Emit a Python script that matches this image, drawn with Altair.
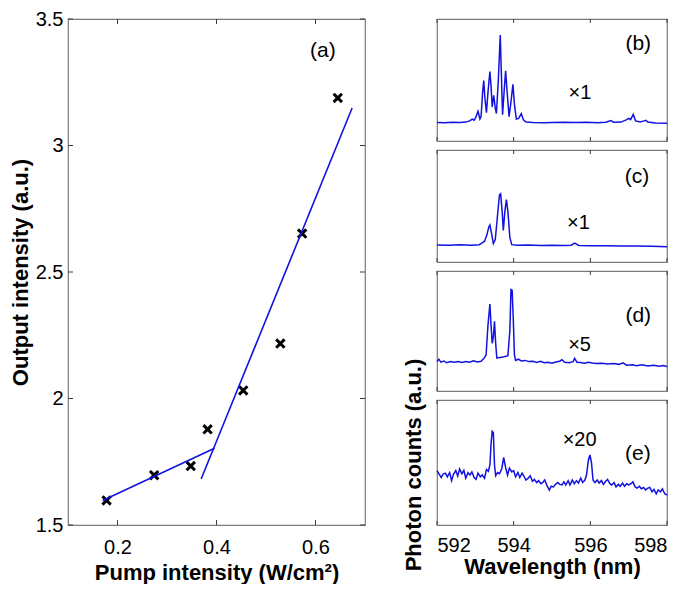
import altair as alt
import pandas as pd

FONT = "Liberation Sans"
BLUE = "#1212e0"
FRAME = "#7a7a7a"
TICKC = "#3a3a3a"

# ---------------- panel (a) ----------------
pump = [0.178, 0.274, 0.348, 0.382, 0.454, 0.529, 0.573, 0.645]
outp = [1.597, 1.697, 1.733, 1.878, 2.032, 2.217, 2.652, 3.188]
fit_x = [0.170, 0.396, 0.369, 0.674]
fit_y = [1.597, 1.803, 1.682, 3.148]
fit_seg = ["below", "below", "above", "above"]
a_xticks = [0.2, 0.4, 0.6]
a_yticks = [1.5, 2.0, 2.5, 3.0, 3.5]

# ---------------- spectra (b)-(e), counts in % of panel height ----------------
wl_b = [592.0, 592.2, 592.4, 592.6, 592.75, 592.85, 592.92, 592.97, 593.02, 593.07,
        593.12, 593.15, 593.19, 593.22, 593.25, 593.29, 593.33, 593.38, 593.41, 593.44,
        593.48, 593.52, 593.55, 593.6, 593.65, 593.68, 593.71, 593.75, 593.79, 593.83,
        593.88, 593.93, 593.98, 594.02, 594.07, 594.13, 594.2, 594.25, 594.32, 594.5,
        594.8, 595.0, 595.3, 595.6, 595.9, 596.2, 596.4, 596.54, 596.6, 596.8,
        596.95, 597.0, 597.05, 597.12, 597.18, 597.3, 597.45, 597.5, 597.7, 598.0]
cnt_b = [15.2, 15.0, 15.3, 15.1, 15.5, 16.5, 18.0, 17.0, 20.0, 24.4,
         18.0, 20.0, 40.0, 49.6, 35.0, 23.2, 40.0, 57.0, 45.0, 28.0,
         37.5, 27.0, 22.5, 50.0, 86.8, 55.0, 21.5, 40.0, 57.5, 40.0,
         19.9, 32.0, 46.5, 30.0, 18.0, 18.5, 22.5, 17.5, 15.5, 15.2,
         15.0, 15.2, 15.4, 15.1, 15.3, 15.0, 15.3, 16.8, 15.4, 15.5,
         17.5, 18.5, 17.5, 21.8, 16.5, 15.5, 17.0, 15.5, 14.8, 14.6]

wl_c = [592.0, 592.3, 592.6, 592.9, 593.1, 593.18, 593.24, 593.3, 593.35, 593.38,
        593.42, 593.47, 593.52, 593.58, 593.63, 593.66, 593.7, 593.73, 593.77, 593.81,
        593.85, 593.9, 593.95, 594.1, 594.4, 594.7, 595.0, 595.3, 595.5, 595.59,
        595.7, 596.0, 596.4, 596.8, 597.2, 597.6, 598.0]
cnt_c = [15.2, 15.0, 15.3, 15.0, 15.4, 17.0, 18.6, 24.0, 31.0, 33.0,
         26.0, 16.5, 20.0, 42.0, 60.0, 60.9, 45.0, 28.2, 45.0, 55.7,
         45.0, 22.0, 15.5, 15.0, 15.2, 14.8, 14.9, 14.7, 15.0, 16.8,
         14.8, 14.6, 14.5, 14.3, 14.2, 14.0, 13.6]

wl_d = [592.0, 592.05, 592.1, 592.18, 592.25, 592.35, 592.45, 592.55, 592.65, 592.75,
        592.85, 592.95, 593.05, 593.15, 593.22, 593.28, 593.33, 593.38, 593.41, 593.44,
        593.47, 593.5, 593.53, 593.56, 593.65, 593.75, 593.85, 593.9, 593.93, 593.96,
        593.99, 594.02, 594.05, 594.12, 594.2, 594.3, 594.4, 594.5, 594.6, 594.7,
        594.8, 594.9, 595.0, 595.1, 595.2, 595.26, 595.33, 595.45, 595.55, 595.59,
        595.65, 595.75, 595.85, 595.95, 596.05, 596.15, 596.3, 596.45, 596.6, 596.75,
        596.85, 596.95, 597.1, 597.2, 597.35, 597.5, 597.65, 597.8, 597.9, 598.0]
cnt_d = [24.5, 26.5, 24.0, 25.0, 23.5, 24.5, 24.0, 24.6, 23.8, 24.5,
         24.0, 25.2, 24.2, 24.8, 27.0, 30.0, 55.0, 72.4, 55.0, 39.8,
         45.0, 58.0, 40.0, 27.6, 28.0, 28.5, 29.5, 50.0, 84.6, 84.0,
         60.0, 30.0, 25.5, 26.5, 25.0, 25.5, 24.5, 24.8, 23.8, 24.8,
         23.5, 24.0, 23.2, 24.2, 24.8, 26.0, 24.0, 23.6, 24.5, 27.2,
         24.0, 23.8, 23.2, 24.0, 23.4, 23.0, 23.2, 22.5, 23.0, 22.2,
         23.5, 21.5, 21.8, 21.0, 21.8, 20.8, 21.5, 20.6, 21.2, 20.5]

wl_e = [592.00, 592.06, 592.11, 592.16, 592.22, 592.27, 592.33, 592.38, 592.43, 592.49,
        592.54, 592.59, 592.65, 592.70, 592.75, 592.81, 592.86, 592.91, 592.97, 593.02,
        593.07, 593.13, 593.18, 593.24, 593.29, 593.34, 593.38, 593.41, 593.44, 593.47,
        593.50, 593.53, 593.58, 593.63, 593.69, 593.74, 593.79, 593.84, 593.89, 593.95,
        594.00, 594.05, 594.11, 594.16, 594.22, 594.27, 594.32, 594.38, 594.43, 594.49,
        594.54, 594.60, 594.65, 594.71, 594.76, 594.81, 594.87, 594.93, 594.98, 595.04,
        595.09, 595.15, 595.20, 595.26, 595.31, 595.36, 595.42, 595.47, 595.53, 595.58,
        595.64, 595.69, 595.75, 595.80, 595.86, 595.90, 595.95, 595.99, 596.03, 596.07,
        596.12, 596.18, 596.23, 596.29, 596.34, 596.40, 596.45, 596.51, 596.56, 596.62,
        596.67, 596.73, 596.78, 596.84, 596.89, 596.95, 597.00, 597.06, 597.11, 597.17,
        597.22, 597.28, 597.33, 597.39, 597.44, 597.50, 597.55, 597.61, 597.66, 597.72,
        597.77, 597.83, 597.88, 597.94, 598.00]
cnt_e = [43.4, 40.5, 38.0, 40.8, 41.5, 38.5, 42.0, 35.5, 40.5, 43.5,
         39.0, 44.8, 41.0, 43.8, 37.5, 41.8, 40.0, 42.5, 38.0, 36.5,
         41.5, 38.5, 40.0, 37.5, 44.5, 43.0, 48.0, 65.0, 75.0, 74.0,
         48.0, 39.5, 42.0, 41.0, 45.0, 54.0, 46.0, 40.0, 45.5, 42.5,
         43.5, 38.5, 42.0, 38.0, 41.5, 39.0, 36.0, 37.5, 39.5, 35.0,
         36.5, 34.0, 35.5, 33.0, 34.0, 36.0, 31.5, 28.0, 31.0, 30.5,
         32.5, 34.0, 32.5, 32.0, 34.5, 32.0, 35.5, 32.0, 36.0, 33.0,
         35.5, 33.5, 37.5, 34.0, 36.0, 40.0, 52.0, 56.0, 50.0, 36.0,
         34.0, 36.0, 33.5, 35.5, 32.5, 35.0, 36.5, 33.0, 32.0, 34.0,
         30.5, 32.5, 31.0, 33.5, 31.0, 33.0, 32.0, 33.0, 34.5, 30.5,
         29.5, 31.0, 29.0, 30.0, 28.0, 29.5, 30.0, 26.5, 28.5, 25.0,
         28.0, 26.5, 29.0, 25.0, 24.0]

wl_ticks = [592, 594, 596, 598]
panel_tags = ["(b)", "(c)", "(d)", "(e)"]
panel_mult = ["×1", "×1", "×5", "×20"]
tag_pos = [(597.25, 79.6), (597.22, 76.0), (597.25, 62.8), (597.24, 56.6)]
mult_pos = [(595.73, 39.0), (595.69, 34.8), (595.72, 38.5), (595.72, 68.4)]
panel_h = [122, 112, 120, 125]

# ---------------- build panel (a) ----------------
WA, HA = 297, 506
xs_a = alt.Scale(domain=[0.1, 0.7], nice=False, zero=False)
ys_a = alt.Scale(domain=[1.5, 3.5], nice=False, zero=False)

x_axis_a = alt.Axis(values=a_xticks, format=".1f", title="Pump intensity (W/cm²)",
                    ticks=False, tickSize=0, domain=False, grid=False,
                    labelFontSize=20, labelPadding=12, titleFontSize=22,
                    titleFontWeight="bold", titlePadding=5)
y_axis_a = alt.Axis(values=a_yticks, format="~g", title="Output intensity (a.u.)",
                    ticks=False, tickSize=0, domain=False, grid=False,
                    labelFontSize=20, labelPadding=5, titleFontSize=22,
                    titleFontWeight="bold", titlePadding=3)


def XA(field):
    return alt.X(field, scale=xs_a, axis=x_axis_a)


def YA(field):
    return alt.Y(field, scale=ys_a, axis=y_axis_a)


df_pts = pd.DataFrame({"pump": pump, "out": outp})
df_fit = pd.DataFrame({"x": fit_x, "y": fit_y, "seg": fit_seg})
df_xt = pd.DataFrame({"t": a_xticks})
df_yt = pd.DataFrame({"t": a_yticks})

pts = alt.Chart(df_pts).mark_point(
    shape="M-1,-1L1,1M-1,1L1,-1", size=70, strokeWidth=3, color="black",
    filled=False, opacity=1
).encode(x=XA("pump:Q"), y=YA("out:Q"))
fit = alt.Chart(df_fit).mark_line(color=BLUE, strokeWidth=1.6).encode(
    x=XA("x:Q"), y=YA("y:Q"), detail="seg:N")
tk_b = alt.Chart(df_xt).mark_rule(color=TICKC, strokeWidth=1).encode(
    x=XA("t:Q"), y=alt.value(HA), y2=alt.value(HA - 5))
tk_t = alt.Chart(df_xt).mark_rule(color=TICKC, strokeWidth=1).encode(
    x=XA("t:Q"), y=alt.value(0), y2=alt.value(5))
tk_l = alt.Chart(df_yt).mark_rule(color=TICKC, strokeWidth=1).encode(
    y=YA("t:Q"), x=alt.value(0), x2=alt.value(5))
tk_r = alt.Chart(df_yt).mark_rule(color=TICKC, strokeWidth=1).encode(
    y=YA("t:Q"), x=alt.value(WA), x2=alt.value(WA - 5))
lab_a = alt.Chart(pd.DataFrame({"t": ["(a)"], "lx": [0.615], "ly": [3.372]})).mark_text(
    font=FONT, fontSize=21, color="black", align="center", baseline="middle"
).encode(x=XA("lx:Q"), y=YA("ly:Q"), text="t:N")

left = alt.layer(pts, fit, tk_b, tk_t, tk_l, tk_r, lab_a).properties(width=WA, height=HA)

# ---------------- build spectra ----------------
WR = 230
xs_r = alt.Scale(domain=[592, 598], nice=False, zero=False)
ys_r = alt.Scale(domain=[0, 100], nice=False, zero=False)
spectra = [(wl_b, cnt_b), (wl_c, cnt_c), (wl_d, cnt_d), (wl_e, cnt_e)]
df_wt = pd.DataFrame({"t": wl_ticks})

panels = []
for i, (wl, cnt) in enumerate(spectra):
    h = panel_h[i]
    last = i == len(spectra) - 1
    if last:
        xax = alt.Axis(values=wl_ticks, format="d", title="Wavelength (nm)",
                       ticks=False, tickSize=0, domain=False, grid=False,
                       labelFontSize=20, labelPadding=10, titleFontSize=22,
                       titleFontWeight="bold", titlePadding=1)
    else:
        xax = None
    df = pd.DataFrame({"wl": wl, "c": cnt})
    line = alt.Chart(df).mark_line(color=BLUE, strokeWidth=1.5).encode(
        x=alt.X("wl:Q", scale=xs_r, axis=xax),
        y=alt.Y("c:Q", scale=ys_r, axis=None),
    )
    tb = alt.Chart(df_wt).mark_rule(color=TICKC, strokeWidth=1).encode(
        x=alt.X("t:Q", scale=xs_r, axis=xax), y=alt.value(h), y2=alt.value(h - 4))
    tt = alt.Chart(df_wt).mark_rule(color=TICKC, strokeWidth=1).encode(
        x=alt.X("t:Q", scale=xs_r, axis=xax), y=alt.value(0), y2=alt.value(4))
    tag = alt.Chart(pd.DataFrame({"t": [panel_tags[i]], "lx": [tag_pos[i][0]],
                                  "ly": [tag_pos[i][1]]})).mark_text(
        font=FONT, fontSize=21, color="black", align="center", baseline="middle"
    ).encode(x=alt.X("lx:Q", scale=xs_r, axis=xax),
             y=alt.Y("ly:Q", scale=ys_r, axis=None), text="t:N")
    mul = alt.Chart(pd.DataFrame({"t": [panel_mult[i]], "lx": [mult_pos[i][0]],
                                  "ly": [mult_pos[i][1]]})).mark_text(
        font=FONT, fontSize=20, color="black", align="center", baseline="middle"
    ).encode(x=alt.X("lx:Q", scale=xs_r, axis=xax),
             y=alt.Y("ly:Q", scale=ys_r, axis=None), text="t:N")
    layers = [line, tb, tt, tag, mul]
    if last:
        ytitle = alt.Chart(pd.DataFrame({"t": ["Photon counts (a.u.)"]})).mark_text(
            font=FONT, fontSize=22, fontWeight="bold", color="black", angle=270,
            align="center", baseline="middle"
        ).encode(x=alt.value(-23), y=alt.value(65), text="t:N")
        layers.append(ytitle)
    panels.append(alt.layer(*layers).properties(width=WR, height=h))

right = alt.vconcat(*panels, spacing=9, bounds="flush")

chart = alt.hconcat(left, right, spacing=72, bounds="flush").properties(
    padding={"left": 0, "top": 0, "right": 0, "bottom": 0}
).configure_view(
    stroke=FRAME, strokeWidth=1.2
).configure_axis(
    labelFont=FONT, titleFont=FONT, labelColor="black", titleColor="black"
).configure_text(font=FONT)

chart.save("out.html", embed_options={"renderer": "svg", "actions": False})
